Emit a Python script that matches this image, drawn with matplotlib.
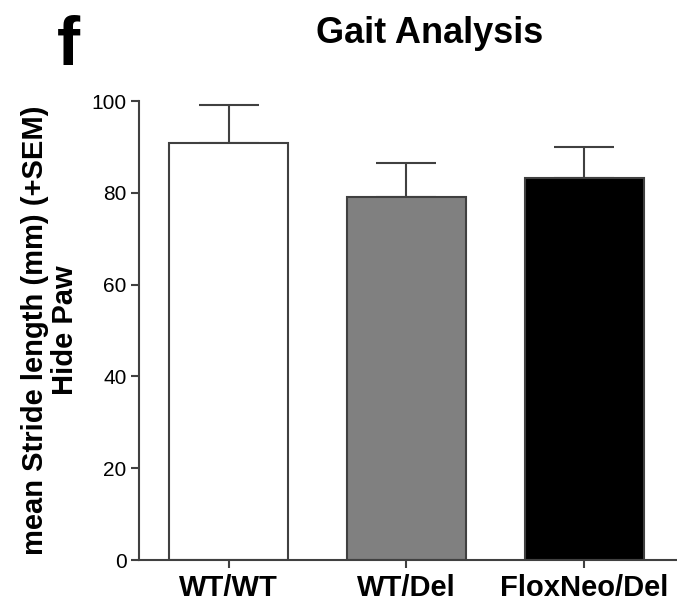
import matplotlib.pyplot as plt
import numpy as np

# data
groups = ["WT/WT", "WT/Del", "FloxNeo/Del"]
means = [90.9, 79.1, 83.3]
sem = [8.3, 7.4, 6.7]
bar_colors = ["white", "#808080", "black"]
yticks = [0, 20, 40, 60, 80, 100]

plt.rcParams['font.family'] = ['Liberation Sans', 'DejaVu Sans']

fig = plt.figure(figsize=(6.77, 6.01), dpi=100)
ax = fig.add_axes([0.2053, 0.0682, 0.7947, 0.7637])

x = np.arange(len(groups))
ax.bar(x, means, width=0.667, color=bar_colors, edgecolor="#404040", linewidth=1.5, zorder=2)
# only the upper half of the SEM is shown
ax.errorbar(x, means, yerr=[np.zeros(len(sem)), sem], fmt="none", ecolor="#404040",
            elinewidth=1.5, capsize=21.6, capthick=1.5, zorder=1)

ax.set_xlim(-0.503, 2.52)
ax.set_ylim(0, 100)
ax.set_yticks(yticks)
ax.set_xticks(x)
ax.set_xticklabels(groups, fontsize=21, fontweight="bold")
ax.tick_params(axis="y", labelsize=15, length=6, width=1.5, color="#404040", pad=3)
ax.tick_params(axis="x", length=6, width=1.5, color="#404040", pad=4)

for s in ["top", "right"]:
    ax.spines[s].set_visible(False)
for s in ["left", "bottom"]:
    ax.spines[s].set_linewidth(1.5)
    ax.spines[s].set_color("#404040")

ax.set_ylabel("mean Stride length (mm) (+SEM)\nHide Paw", fontsize=21, fontweight="bold",
              linespacing=1.1, labelpad=9)

fig.text(0.635, 0.928, "Gait Analysis", fontsize=26, fontweight="bold", ha="center", va="baseline")
fig.text(0.101, 0.892, "f", fontsize=50, fontweight="bold", ha="center", va="baseline")

plt.savefig("out.png", dpi=100)
